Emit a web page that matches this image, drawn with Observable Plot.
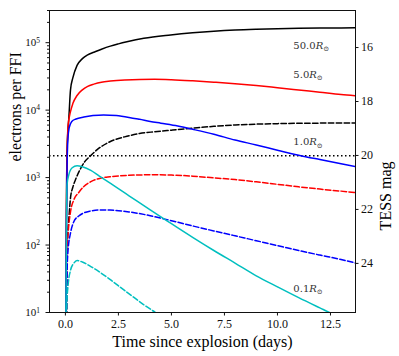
<!DOCTYPE html>
<html><head><meta charset="utf-8">
<script src="https://cdn.jsdelivr.net/npm/d3@7"></script>
<script src="https://cdn.jsdelivr.net/npm/@observablehq/plot@0.6"></script>
<style>
html,body{margin:0;padding:0;background:#fff;}
#chart svg{display:block;}
</style>
</head><body><div id="chart"></div>
<script>
// ---- data ----
const radiusLabels = ["50.0", "5.0", "1.0", "0.1"];
const seriesColors = ["#000000", "#ff0000", "#0000ff", "#00bfbf"];

// solid curves
const tSolid50 = [0.02,0.05,0.08,0.12,0.16,0.24,0.35,0.55,0.8,1.05,1.34,1.7,2.12,2.5,2.9,3.7,4.96,6,7,8,9,10,11,12,13,13.7];
const eSolid50 = [5,500,2500,5000,7500,2.0e4,3.0e4,4.6e4,5.8e4,6.6e4,7.2e4,8.0e4,8.9e4,9.6e4,1.03e5,1.16e5,1.3e5,1.4e5,1.48e5,1.54e5,1.58e5,1.61e5,1.63e5,1.645e5,1.655e5,1.66e5];
const tSolid5 = [0.02,0.05,0.08,0.13,0.24,0.35,0.55,0.8,1.05,1.34,1.7,2.12,2.8,3.5,4.2,5,6,7,8,9,10,11,12,13,13.7];
const eSolid5 = [5,300,2500,6000,9500,1.25e4,1.65e4,2.0e4,2.25e4,2.43e4,2.6e4,2.7e4,2.8e4,2.85e4,2.86e4,2.82e4,2.72e4,2.6e4,2.47e4,2.32e4,2.15e4,1.99e4,1.84e4,1.7e4,1.63e4];
const tSolid1 = [0.02,0.05,0.08,0.12,0.18,0.3,0.5,0.87,1.3,1.8,2.4,3,3.5,4,4.5,5.3,6,7,8,9,10,11,12,13,13.7];
const eSolid1 = [5,200,1500,3800,5500,6800,7400,7900,8300,8500,8300,7800,7300,6800,6400,5800,5200,4400,3600,3050,2550,2150,1850,1600,1450];
const tSolid01 = [0.02,0.05,0.08,0.16,0.32,0.55,0.8,1.2,1.6,2,3,4,5,6,7,8,9,10,11,12,13,13.7];
const eSolid01 = [5,200,800,1100,1400,1500,1450,1280,1050,870,537,331,207,130,83,54,35,24,16.6,11.7,8.3,6.6];

// dashed curves
const tDash50 = [0.05,0.08,0.12,0.16,0.24,0.35,0.47,0.71,0.9,1.18,1.5,2.1,2.9,3.5,4.2,5,6,7,8,9,10,11,12,13,13.7];
const eDash50 = [5,80,160,240,500,720,920,1350,1700,2100,2600,3400,4100,4500,4780,5050,5400,5750,6020,6200,6310,6380,6420,6450,6460];
const tDash5 = [0.05,0.09,0.13,0.24,0.4,0.63,0.87,1.2,1.65,2.1,3,4,5,6,7,8,9,10,11,12,13,13.7];
const eDash5 = [5,90,150,310,470,600,740,870,980,1030,1080,1100,1090,1050,990,935,865,795,730,675,630,600];
const tDash1 = [0.05,0.08,0.12,0.24,0.39,0.63,0.87,1.2,1.65,2.1,3,4,4.5,5,6,7,8,9,10,11,12,13,13.7];
const eDash1 = [5,40,80,150,220,270,300,320,332,330,310,272,250,230,192,162,137,116,98,83,71,61,54];
const tDash01 = [0.03,0.07,0.13,0.24,0.4,0.55,0.8,1.2,1.6,2.1,2.6,3.2,3.7,4.25,4.7];
const eDash01 = [5,14,26,42,54,59,56,48,40,31,23.5,17,13,10,8];

const detectionLimit = [2100];           // electrons per FFI (dotted line)
const xTickValues = [0, 2.5, 5, 7.5, 10, 12.5];
const yMajorTicks = [10, 100, 1e3, 1e4, 1e5];
const magTickValues = [16, 18, 20, 22, 24];
const magZeroPoint = 28.32;              // mag = ZP - 2.5 log10(electrons)

// curve-label anchors (data units)
const labelT = [10.75, 10.75, 10.75, 10.75];
const labelE = [9.1e4, 3.37e4, 3.34e3, 22.4];

// ---- build tables ----
function rows(ts, es, r, dashed) {
  return ts.map((t, i) => ({t, e: es[i], r, dashed}));
}
const solids = [
  rows(tSolid50, eSolid50, 0, false),
  rows(tSolid5, eSolid5, 1, false),
  rows(tSolid1, eSolid1, 2, false),
  rows(tSolid01, eSolid01, 3, false)
];
const dashes = [
  rows(tDash50, eDash50, 0, true),
  rows(tDash5, eDash5, 1, true),
  rows(tDash1, eDash1, 2, true),
  rows(tDash01, eDash01, 3, true)
];

const yMinorTicks = [];
for (let d = 10; d <= 1e5; d *= 10) for (let k = 2; k <= 9; k++) if (d * k <= 3e5) yMinorTicks.push(d * k);

const magRows = magTickValues.map(m => ({m, e: Math.pow(10, (magZeroPoint - m) / 2.5)}));

const labels = radiusLabels.map((s, i) => ({t: labelT[i], e: labelE[i], text: s + "R⊙"}));

const lineMarks = [];
for (let i = 0; i < 4; i++) {
  lineMarks.push(Plot.line(solids[i], {x: "t", y: "e", stroke: seriesColors[i], strokeWidth: 1.5, curve: "monotone-x", clip: true}));
  lineMarks.push(Plot.line(dashes[i], {x: "t", y: "e", stroke: seriesColors[i], strokeWidth: 1.5, strokeDasharray: "5.5,2.4", curve: "monotone-x", clip: true}));
}

const W = 399, H = 356, ML = 49, MR = 44, MT = 10, MB = 44;
const frameW = W - ML - MR;

const chart = Plot.plot({
  width: W,
  height: H,
  marginLeft: ML,
  marginRight: MR,
  marginTop: MT,
  marginBottom: MB,
  x: {domain: [-0.75, 13.68]},
  y: {type: "log", domain: [10, 3e5]},
  style: {fontSize: "12px", color: "#111", background: "#fff"},
  marks: [
    Plot.ruleY(detectionLimit, {stroke: "#000", strokeWidth: 1.5, strokeDasharray: "1.5,2.5"}),
    ...lineMarks,
    Plot.frame({stroke: "#111", strokeWidth: 1}),
    Plot.axisX(xTickValues, {tickSize: 3.5, tickPadding: 3, tickFormat: d => d.toFixed(1), label: null, fontSize: 12}),
    Plot.axisY(yMajorTicks, {anchor: "left", tickSize: 3.5, tickPadding: 6, tickFormat: d => "10^" + Math.round(Math.log10(d)), label: null, fontSize: 11}),
    Plot.axisY(yMinorTicks, {anchor: "left", tickSize: 2, tickFormat: () => "", label: null}),
    // right-hand TESS magnitude axis
    Plot.tickY(magRows, {y: "e", stroke: "#111", strokeWidth: 1, insetLeft: frameW, insetRight: -3.5}),
    Plot.text(magRows, {y: "e", text: d => String(d.m), frameAnchor: "right", dx: 5.5, textAnchor: "start", lineAnchor: "middle", fontSize: 12, fill: "#111"}),
    Plot.text(labels, {x: "t", y: "e", text: "text", textAnchor: "start", lineAnchor: "middle", fontSize: 10, fill: "#333"}),
    Plot.text(["electrons per FFI"], {frameAnchor: "left", dx: -34, rotate: -90, fontSize: 16, lineAnchor: "middle", fill: "#000"}),
    Plot.text(["TESS mag"], {frameAnchor: "right", dx: 30, rotate: -90, fontSize: 16, lineAnchor: "middle", fill: "#000"}),
    Plot.text(["Time since explosion (days)"], {frameAnchor: "bottom", dy: 29, fontSize: 16, lineAnchor: "middle", fill: "#000"})
  ]
});

const serif = '"Liberation Serif", "Times New Roman", Times, "DejaVu Serif", serif';
const mathSerif = '"DejaVu Serif", "Liberation Serif", serif';
d3.select(chart).style("font-family", serif);

// rich text: superscripts for powers of ten, italic R with subscript sun symbol
d3.select(chart).selectAll("text").each(function () {
  const el = d3.select(this);
  el.style("font-family", serif);
  const s = this.textContent;
  let m = /^10\^(\d)$/.exec(s);
  if (m) {
    el.text("");
    el.append("tspan").text("10");
    el.append("tspan").attr("dy", "-0.45em").attr("font-size", "7.5px").text(m[1]);
    return;
  }
  m = /^([\d.]+)R⊙$/.exec(s);
  if (m) {
    el.style("font-family", mathSerif);
    el.text("");
    el.append("tspan").text(m[1]);
    el.append("tspan").attr("font-style", "italic").text("R");
    el.append("tspan").attr("dy", "0.3em").attr("font-size", "7px").text("⊙");
  }
});

document.getElementById("chart").appendChild(chart);
</script>
</body></html>
